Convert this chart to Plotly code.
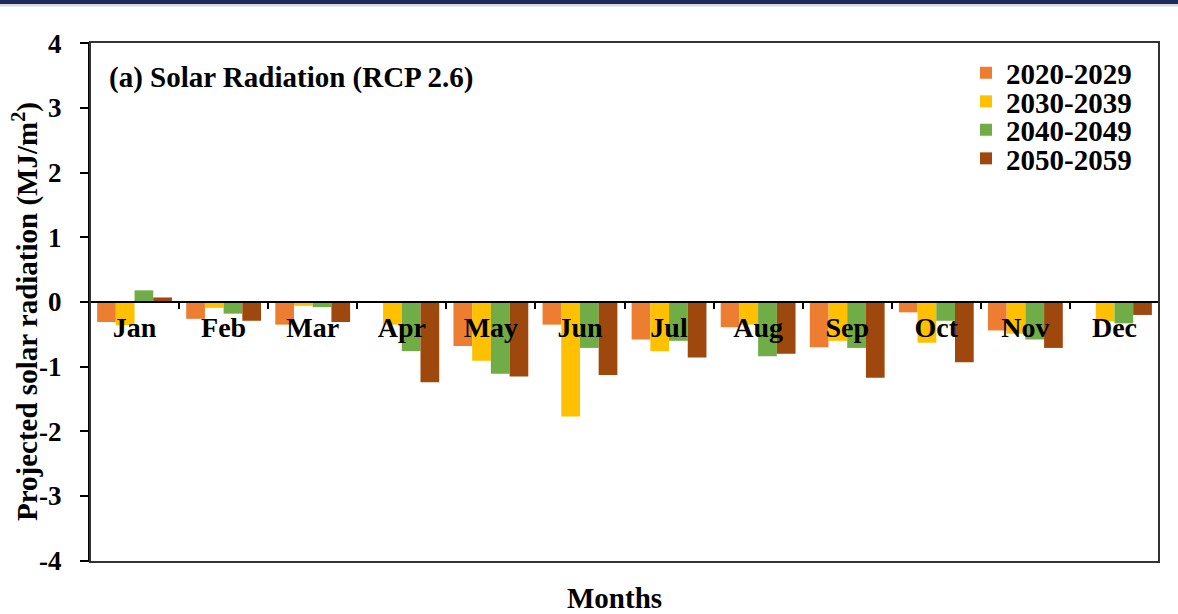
import plotly.graph_objects as go

months = ["Jan", "Feb", "Mar", "Apr", "May", "Jun", "Jul", "Aug", "Sep", "Oct", "Nov", "Dec"]
series_names = ["2020-2029", "2030-2039", "2040-2049", "2050-2059"]
s2020 = [-0.31, -0.26, -0.35, 0.00, -0.68, -0.35, -0.58, -0.39, -0.70, -0.16, -0.44, 0.00]
s2030 = [-0.36, -0.09, -0.06, -0.35, -0.91, -1.77, -0.76, -0.35, -0.60, -0.63, -0.49, -0.30]
s2040 = [0.18, -0.18, -0.08, -0.76, -1.11, -0.71, -0.60, -0.84, -0.71, -0.29, -0.58, -0.33]
s2050 = [0.07, -0.29, -0.31, -1.24, -1.15, -1.13, -0.86, -0.80, -1.17, -0.93, -0.71, -0.20]
colors = ["#ED7D31", "#FFC000", "#70AD47", "#9E480E"]
y_ticks = [-4, -3, -2, -1, 0, 1, 2, 3, 4]

FONT = "Liberation Serif"
W, H = 1178, 614
ml, mr, mt, mb = 90, 19, 42, 52
pw, ph = W - ml - mr, H - mt - mb

fig = go.Figure()
legends = ["legend", "legend2", "legend3", "legend4"]
for i, (name, vals) in enumerate(zip(series_names, [s2020, s2030, s2040, s2050])):
    fig.add_trace(go.Bar(x=months, y=vals, name=name, marker_color=colors[i],
                         marker_line_width=0, legend=legends[i]))

def px2py(py):
    return (H - mb - py) / ph

def px2px(px):
    return (px - ml) / pw

leg_common = dict(font=dict(family=FONT, size=29, color="black", weight="bold"),
                  bgcolor="rgba(0,0,0,0)",
                  xanchor="left", yanchor="middle", itemwidth=30, borderwidth=0,
                  tracegroupgap=0)
row_y = [73, 101.5, 130, 158.5]
layout_leg = {}
for i, lg in enumerate(legends):
    layout_leg[lg] = dict(leg_common, x=px2px(966), y=px2py(row_y[i]))

fig.update_layout(
    width=W, height=H,
    margin=dict(l=ml, r=mr, t=mt, b=mb, pad=0),
    paper_bgcolor="white", plot_bgcolor="white",
    barmode="group", bargap=0.16, bargroupgap=0,
    font=dict(family=FONT, color="black"),
    showlegend=True,
    **layout_leg,
    xaxis=dict(
        type="category", anchor="free", position=0.5,
        showline=True, linecolor="black", linewidth=2,
        ticks="outside", tickson="boundaries", ticklen=6, tickwidth=2, tickcolor="black",
        tickfont=dict(family=FONT, size=28, color="black", weight="bold"),
        showgrid=False, zeroline=False,
    ),
    yaxis=dict(
        range=[-4.02, 4.02], tickvals=y_ticks, ticktext=[str(v) for v in y_ticks],
        showline=True, linecolor="black", linewidth=2,
        ticks="outside", ticklen=8, tickwidth=2, tickcolor="black",
        tickfont=dict(family=FONT, size=27, color="black", weight="bold"),
        ticklabelstandoff=13,
        showgrid=False, zeroline=False,
    ),
    annotations=[
        dict(text="<b>(a) Solar Radiation (RCP 2.6)</b>", xref="paper", yref="paper",
             x=px2px(107), y=px2py(78), xanchor="left", yanchor="middle", showarrow=False,
             font=dict(family=FONT, size=29, color="black")),
        dict(text="<b>Months</b>", xref="paper", yref="paper",
             x=px2px(614), y=px2py(598), xanchor="center", yanchor="middle", showarrow=False,
             font=dict(family=FONT, size=29, color="black")),
        dict(text="<b>Projected solar radiation (MJ/m<sup>2</sup>)</b>", xref="paper", yref="paper",
             x=px2px(26), y=px2py(312), xanchor="center", yanchor="middle", showarrow=False,
             textangle=-90, font=dict(family=FONT, size=29, color="black")),
    ],
    shapes=[
        dict(type="rect", xref="paper", yref="paper", x0=0, x1=1, y0=0, y1=1,
             line=dict(color="#333333", width=2), layer="above"),
        dict(type="rect", xref="paper", yref="paper", x0=px2px(0), x1=px2px(W),
             y0=px2py(4), y1=px2py(0), fillcolor="#1c2b5c", line_width=0, layer="above"),
        dict(type="rect", xref="paper", yref="paper", x0=px2px(0), x1=px2px(W),
             y0=px2py(6.5), y1=px2py(4), fillcolor="#d9d9d9", line_width=0, layer="above"),
    ],
)

fig.write_html("out.html", config={"displayModeBar": False},
               post_script="document.body.style.margin='0';document.body.style.overflow='hidden';")
